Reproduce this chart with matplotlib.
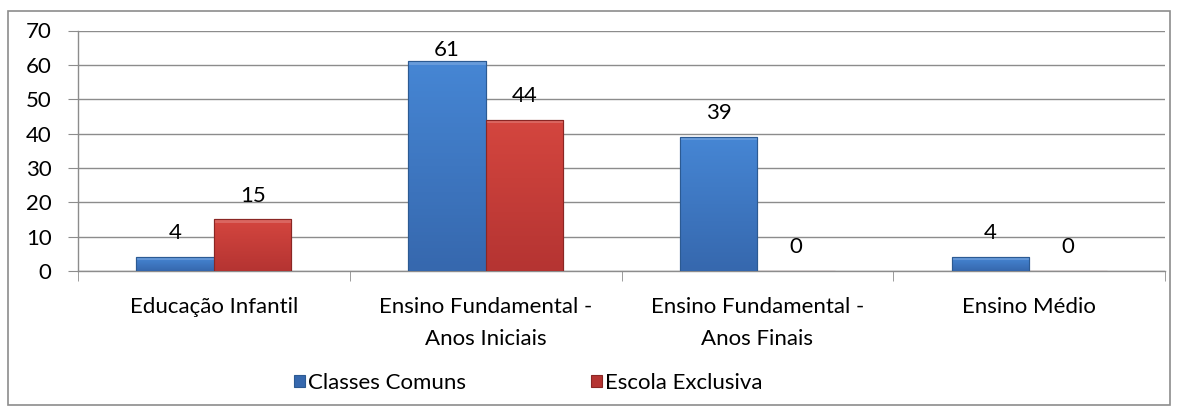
import numpy as np
import matplotlib.pyplot as plt
from matplotlib.patches import Rectangle
from matplotlib.colors import LinearSegmentedColormap

plt.rcParams['font.family'] = ['Lato', 'DejaVu Sans']

categorias = ['Educação Infantil', 'Ensino Fundamental -\nAnos Iniciais',
              'Ensino Fundamental -\nAnos Finais', 'Ensino Médio']
classes_comuns = [4, 61, 39, 4]
escola_exclusiva = [15, 44, 0, 0]
series_nomes = ['Classes Comuns', 'Escola Exclusiva']

fs = 16
fig = plt.figure(figsize=(11.78, 4.08), dpi=100)
ax = fig.add_axes([78/1178, 1-271/408, (1165-78)/1178, (271-30.5)/408])

# borda externa do grafico
fig.patches.append(Rectangle((8/1178, 3/408), 1162/1178, 394/408, transform=fig.transFigure,
                             fill=False, edgecolor='#8c8c8c', linewidth=1.2))

x = np.arange(len(categorias))
w = 0.285
cores = [('#4686d4', '#3668ae', '#2c5a92'), ('#d4463f', '#b53432', '#8a2624')]
grad = np.linspace(1, 0, 64).reshape(-1, 1)

barras = []
for i, (vals, nome) in enumerate(zip([classes_comuns, escola_exclusiva], series_nomes)):
    topo, base, borda = cores[i]
    cmap = LinearSegmentedColormap.from_list('g%d' % i, [base, topo])
    b = ax.bar(x + (i - 0.5) * w, vals, w, color=base, edgecolor=borda, linewidth=0.8,
               label=nome, zorder=3)
    for r in b:
        if r.get_height() <= 0:
            continue
        im = ax.imshow(grad, cmap=cmap, extent=[r.get_x(), r.get_x() + r.get_width(), 0, r.get_height()],
                       aspect='auto', zorder=3.5, vmin=0, vmax=1)
        im.set_clip_path(r)
        # bisel claro no topo
        ax.add_patch(Rectangle((r.get_x(), r.get_height() - min(0.9, r.get_height() * 0.3)),
                               r.get_width(), min(0.9, r.get_height() * 0.3),
                               color='white', alpha=0.18, linewidth=0, zorder=3.6))
        ax.add_patch(Rectangle((r.get_x(), 0), r.get_width(), r.get_height(), fill=False,
                               edgecolor=borda, linewidth=0.8, zorder=3.7))
    barras.append(b)

for b in barras:
    for r in b:
        h = r.get_height()
        ax.text(r.get_x() + r.get_width()/2, min(h + 5.2, 62.6), str(int(h)),
                ha='center', va='baseline', fontsize=fs, zorder=5)

ax.set_ylim(0, 70)
ax.set_yticks(range(0, 71, 10))
ax.set_xlim(-0.5, len(categorias) - 0.5)
ax.set_xticks(x)
ax.set_xticklabels(categorias, fontsize=fs, linespacing=1.7)
ax.set_xticks(np.arange(-0.5, len(categorias), 1), minor=True)
ax.tick_params(axis='x', which='major', length=0, pad=19)
ax.tick_params(axis='x', which='minor', length=7, color='#8c8c8c', direction='out')
ax.tick_params(axis='y', labelsize=fs, length=7, color='#8c8c8c', pad=12)
ax.grid(axis='y', color='#8c8c8c', linewidth=1.0, zorder=0)

for s in ['top', 'right']:
    ax.spines[s].set_visible(False)
for s in ['left', 'bottom']:
    ax.spines[s].set_color('#8c8c8c')
    ax.spines[s].set_linewidth(1.0)

fig.legend(handles=[barras[0], barras[1]], loc='center', bbox_to_anchor=(0.4485, 1-383/408), ncol=2,
           frameon=False, fontsize=fs, handlelength=0.5, handleheight=0.5, handletextpad=0.15,
           columnspacing=5.6)

fig.savefig('out.png', dpi=100)
